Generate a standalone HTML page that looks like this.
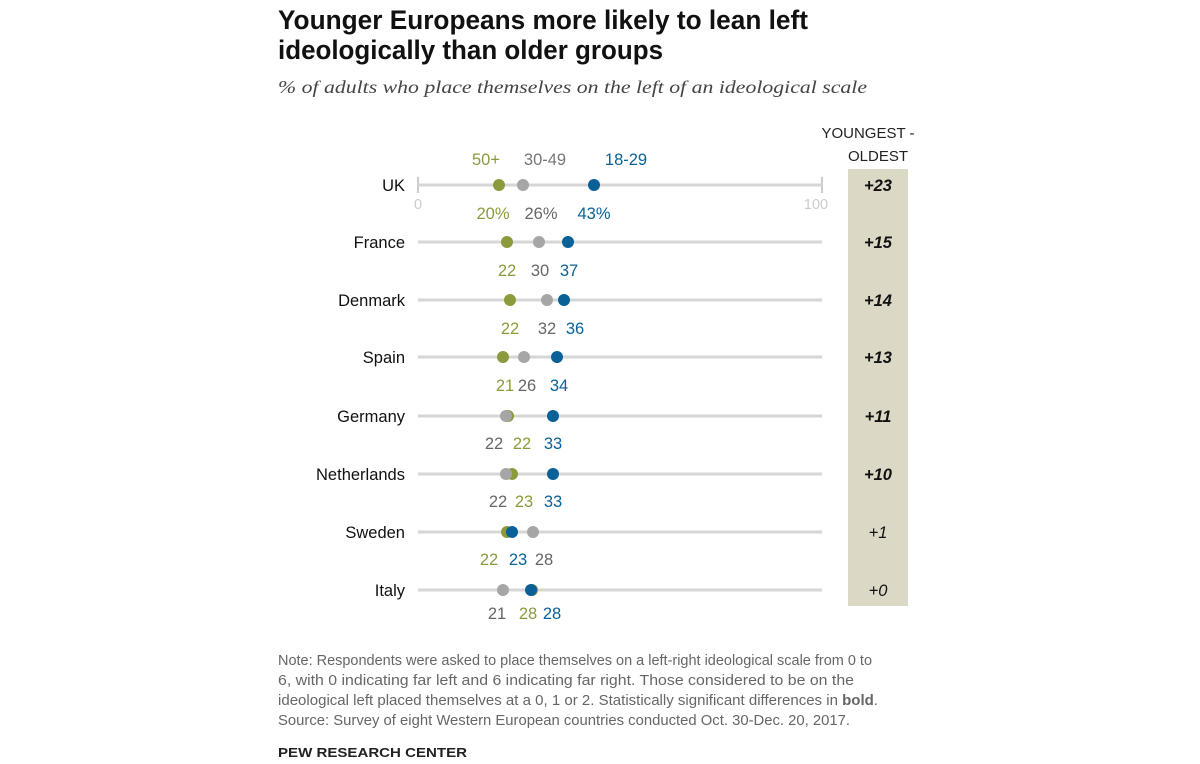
<!DOCTYPE html>
<html><head><meta charset="utf-8"><style>
html,body{margin:0;padding:0;background:#fff;}
svg{display:block;font-family:"Liberation Sans",Arial,sans-serif;}
</style></head><body>
<svg width="1200" height="764" viewBox="0 0 1200 764" xmlns="http://www.w3.org/2000/svg">
<text x="278" y="29" font-size="27" font-weight="bold" fill="#111" textLength="530" lengthAdjust="spacingAndGlyphs">Younger Europeans more likely to lean left</text>
<text x="278" y="59" font-size="27" font-weight="bold" fill="#111" textLength="385" lengthAdjust="spacingAndGlyphs">ideologically than older groups</text>
<text x="278" y="93" font-size="18" font-style="italic" font-family="Liberation Serif,serif" fill="#444" textLength="589" lengthAdjust="spacingAndGlyphs">% of adults who place themselves on the left of an ideological scale</text>

<rect x="848" y="169" width="60" height="437" fill="#dcd8c6"/>
<text x="868" y="138" font-size="15" text-anchor="middle" fill="#222">YOUNGEST -</text>
<text x="878" y="161" font-size="15" text-anchor="middle" fill="#222">OLDEST</text>

<g font-size="16.5" text-anchor="middle">
<text x="486" y="165" fill="#8c9a3c">50+</text>
<text x="545" y="165" fill="#777">30-49</text>
<text x="626" y="165" fill="#0a6197">18-29</text>
</g>
<line x1="418" y1="177" x2="418" y2="193" stroke="#ccc" stroke-width="2"/>
<line x1="822" y1="177" x2="822" y2="193" stroke="#ccc" stroke-width="2"/>
<text x="418" y="209" font-size="14.5" fill="#ccc" text-anchor="middle">0</text>
<text x="816" y="209" font-size="14.5" fill="#ccc" text-anchor="middle">100</text>

<g stroke="#d6d6d6" stroke-width="3">
<line x1="418" y1="185" x2="822" y2="185"/>
<line x1="418" y1="242" x2="822" y2="242"/>
<line x1="418" y1="300" x2="822" y2="300"/>
<line x1="418" y1="357" x2="822" y2="357"/>
<line x1="418" y1="416" x2="822" y2="416"/>
<line x1="418" y1="474" x2="822" y2="474"/>
<line x1="418" y1="532" x2="822" y2="532"/>
<line x1="418" y1="590" x2="822" y2="590"/>
</g>

<g font-size="16.5" fill="#111" text-anchor="end">
<text x="405" y="191">UK</text>
<text x="405" y="248">France</text>
<text x="405" y="306">Denmark</text>
<text x="405" y="363">Spain</text>
<text x="405" y="422">Germany</text>
<text x="405" y="480">Netherlands</text>
<text x="405" y="538">Sweden</text>
<text x="405" y="596">Italy</text>
</g>

<g font-size="16.5" font-weight="bold" font-style="italic" fill="#111" text-anchor="middle">
<text x="878" y="191">+23</text>
<text x="878" y="248">+15</text>
<text x="878" y="306">+14</text>
<text x="878" y="363">+13</text>
<text x="878" y="422">+11</text>
<text x="878" y="480">+10</text>
<text x="878" y="538" font-weight="normal">+1</text>
<text x="878" y="596" font-weight="normal">+0</text>
</g>

<g>
<circle cx="499" cy="185" r="6" fill="#8c9a3c"/><circle cx="523" cy="185" r="6" fill="#a6a6a6"/><circle cx="594" cy="185" r="6" fill="#0a6197"/>
<circle cx="507" cy="242" r="6" fill="#8c9a3c"/><circle cx="539" cy="242" r="6" fill="#a6a6a6"/><circle cx="568" cy="242" r="6" fill="#0a6197"/>
<circle cx="510" cy="300" r="6" fill="#8c9a3c"/><circle cx="547" cy="300" r="6" fill="#a6a6a6"/><circle cx="564" cy="300" r="6" fill="#0a6197"/>
<circle cx="503" cy="357" r="6" fill="#8c9a3c"/><circle cx="524" cy="357" r="6" fill="#a6a6a6"/><circle cx="557" cy="357" r="6" fill="#0a6197"/>
<circle cx="508" cy="416" r="6" fill="#8c9a3c"/><circle cx="506" cy="416" r="6" fill="#a6a6a6"/><circle cx="553" cy="416" r="6" fill="#0a6197"/>
<circle cx="512" cy="474" r="6" fill="#8c9a3c"/><circle cx="506" cy="474" r="6" fill="#a6a6a6"/><circle cx="553" cy="474" r="6" fill="#0a6197"/>
<circle cx="533" cy="532" r="6" fill="#a6a6a6"/><circle cx="507" cy="532" r="6" fill="#8c9a3c"/><circle cx="512" cy="532" r="6" fill="#0a6197"/>
<circle cx="503" cy="590" r="6" fill="#a6a6a6"/><circle cx="532" cy="590" r="6" fill="#8c9a3c"/><circle cx="531" cy="590" r="6" fill="#0a6197"/>
</g>

<g font-size="16.5" text-anchor="middle">
<text x="493" y="219" fill="#8c9a3c">20%</text><text x="541" y="219" fill="#666">26%</text><text x="594" y="219" fill="#0a6197">43%</text>
<text x="507" y="276" fill="#8c9a3c">22</text><text x="540" y="276" fill="#666">30</text><text x="569" y="276" fill="#0a6197">37</text>
<text x="510" y="334" fill="#8c9a3c">22</text><text x="547" y="334" fill="#666">32</text><text x="575" y="334" fill="#0a6197">36</text>
<text x="505" y="391" fill="#8c9a3c">21</text><text x="527" y="391" fill="#666">26</text><text x="559" y="391" fill="#0a6197">34</text>
<text x="494" y="449" fill="#666">22</text><text x="522" y="449" fill="#8c9a3c">22</text><text x="553" y="449" fill="#0a6197">33</text>
<text x="498" y="507" fill="#666">22</text><text x="524" y="507" fill="#8c9a3c">23</text><text x="553" y="507" fill="#0a6197">33</text>
<text x="489" y="565" fill="#8c9a3c">22</text><text x="518" y="565" fill="#0a6197">23</text><text x="544" y="565" fill="#666">28</text>
<text x="497" y="619" fill="#666">21</text><text x="528" y="619" fill="#8c9a3c">28</text><text x="552" y="619" fill="#0a6197">28</text>
</g>

<g font-size="14.5" fill="#666">
<text x="278" y="665" textLength="594" lengthAdjust="spacingAndGlyphs">Note: Respondents were asked to place themselves on a left-right ideological scale from 0 to</text>
<text x="278" y="685" textLength="576" lengthAdjust="spacingAndGlyphs">6, with 0 indicating far left and 6 indicating far right. Those considered to be on the</text>
<text x="278" y="705" textLength="600" lengthAdjust="spacingAndGlyphs">ideological left placed themselves at a 0, 1 or 2. Statistically significant differences in <tspan font-weight="bold">bold</tspan>.</text>
<text x="278" y="725" textLength="572" lengthAdjust="spacingAndGlyphs">Source: Survey of eight Western European countries conducted Oct. 30-Dec. 20, 2017.</text>
</g>
<text x="278" y="757" font-size="13" font-weight="bold" fill="#222" textLength="189" lengthAdjust="spacingAndGlyphs">PEW RESEARCH CENTER</text>
</svg>
</body></html>
